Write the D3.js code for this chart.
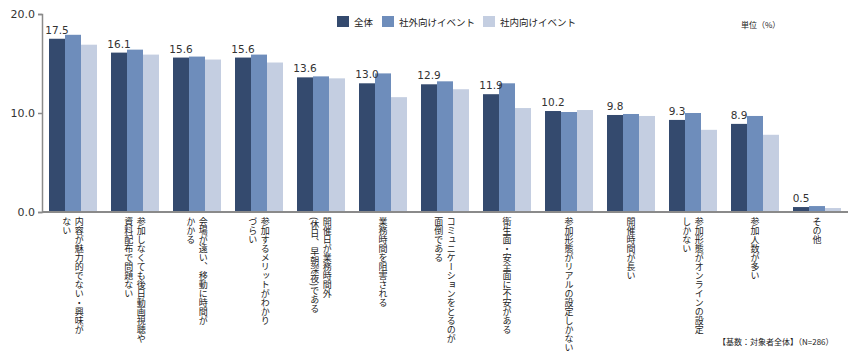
<!DOCTYPE html>
<html>
<head>
<meta charset="utf-8">
<script src="https://cdn.jsdelivr.net/npm/d3@7"></script>
<style>
  body { margin: 0; background: #fff; }
  svg { display: block; }
  .jp { font-family: "Noto Sans CJK JP", sans-serif; fill: #222; }
  .num { font-family: "DejaVu Sans", sans-serif; fill: #333; }
  .vlabel { writing-mode: vertical-rl; }
</style>
</head>
<body>
<div id="chart"></div>
<script>
// categories, each one split into the columns shown in the picture
const categories = [
    ["内容が魅力的でない・興味が", "ない"],
    ["参加しなくても後日動画視聴や", "資料配布で問題ない"],
    ["会場が遠い、移動に時間が", "かかる"],
    ["参加するメリットがわかり", "づらい"],
    ["開催日が業務時間外", "(休日、早朝深夜)である"],
    ["業務時間を阻害される"],
    ["コミュニケーションをとるのが", "面倒である"],
    ["衛生面・安全面に不安がある"],
    ["参加形態がリアルの設定しかない"],
    ["開催時間が長い"],
    ["参加形態がオンラインの設定", "しかない"],
    ["参加人数が多い"],
    ["その他"]
];

const seriesNames = ["全体", "社外向けイベント", "社内向けイベント"];
const totalValues = [17.5, 16.1, 15.6, 15.6, 13.6, 13.0, 12.9, 11.9, 10.2, 9.8, 9.3, 8.9, 0.5];
const externalValues = [17.9, 16.4, 15.7, 15.9, 13.7, 14.0, 13.2, 13.0, 10.1, 9.9, 10.0, 9.7, 0.6];
const internalValues = [16.9, 15.9, 15.4, 15.1, 13.5, 11.6, 12.4, 10.5, 10.3, 9.7, 8.3, 7.8, 0.4];
const yTicks = [0, 10, 20];

const colors = ["#344a6e", "#6e8dbb", "#c4cee1"];

const width = 850, height = 353;
const svg = d3.select("#chart").append("svg")
    .attr("width", width)
    .attr("height", height);

// scales
const x = d3.scaleBand()
    .domain(d3.range(categories.length))
    .range([42, 848])
    .paddingInner(0.226)
    .paddingOuter(0.113);

const xSub = d3.scaleBand()
    .domain(d3.range(seriesNames.length))
    .range([0, x.bandwidth()]);

const y = d3.scaleLinear()
    .domain([0, 20])
    .range([212, 14]);

// y axis
const yAxis = svg.append("g")
    .attr("transform", "translate(42,0)")
    .call(d3.axisLeft(y).tickValues(yTicks).tickSize(4).tickFormat(d3.format(".1f")));
yAxis.select(".domain").attr("stroke", "#8a8a8a").attr("stroke-width", 1.5);
yAxis.selectAll(".tick line").attr("stroke", "#8a8a8a").attr("stroke-width", 1.5);
yAxis.selectAll(".tick text")
    .attr("class", "num")
    .attr("x", -7)
    .style("font-size", "11px")
    .attr("fill", "#333");

// bars
const seriesValues = [totalValues, externalValues, internalValues];
const groups = svg.append("g").selectAll("g")
    .data(categories.map((c, i) => i))
    .join("g")
    .attr("transform", i => `translate(${x(i)},0)`);

groups.selectAll("rect")
    .data(i => seriesValues.map((vals, s) => ({ s: s, v: vals[i] })))
    .join("rect")
    .attr("x", d => xSub(d.s))
    .attr("y", d => y(d.v))
    .attr("width", xSub.bandwidth())
    .attr("height", d => y(0) - y(d.v))
    .attr("fill", d => colors[d.s]);

// value labels of 全体
groups.append("text")
    .attr("class", "num")
    .attr("x", xSub(0) + xSub.bandwidth() / 2)
    .attr("y", i => y(totalValues[i]) - 5)
    .attr("text-anchor", "middle")
    .style("font-size", "10.5px")
    .text(i => totalValues[i].toFixed(1));

// x baseline
svg.append("line")
    .attr("x1", 42).attr("x2", 848)
    .attr("y1", y(0)).attr("y2", y(0))
    .attr("stroke", "#8a8a8a")
    .attr("stroke-width", 2);

// vertical category labels
groups.each(function (i) {
    const lines = categories[i];
    const cx = x.bandwidth() / 2;
    const gap = 12.5;
    lines.forEach((line, k) => {
        d3.select(this).append("text")
            .attr("class", "jp vlabel")
            .attr("x", cx + ((lines.length - 1) / 2 - k) * gap)
            .attr("y", 217)
            .style("font-size", "9px")
            .text(line);
    });
});

// legend
const legendX = [337, 382, 483];
const legend = svg.append("g");
seriesNames.forEach((name, s) => {
    legend.append("rect")
        .attr("x", legendX[s]).attr("y", 16)
        .attr("width", 12).attr("height", 11)
        .attr("fill", colors[s]);
    legend.append("text")
        .attr("class", "jp")
        .attr("x", legendX[s] + 17).attr("y", 25.5)
        .style("font-size", "9.5px")
        .text(name);
});

// unit and footnote
svg.append("text")
    .attr("class", "jp")
    .attr("x", 741).attr("y", 28)
    .style("font-size", "8px")
    .text("単位（%）");

svg.append("text")
    .attr("class", "jp")
    .attr("x", 718).attr("y", 345)
    .style("font-size", "8px")
    .text("【基数：対象者全体】（N=286）");
</script>
</body>
</html>
